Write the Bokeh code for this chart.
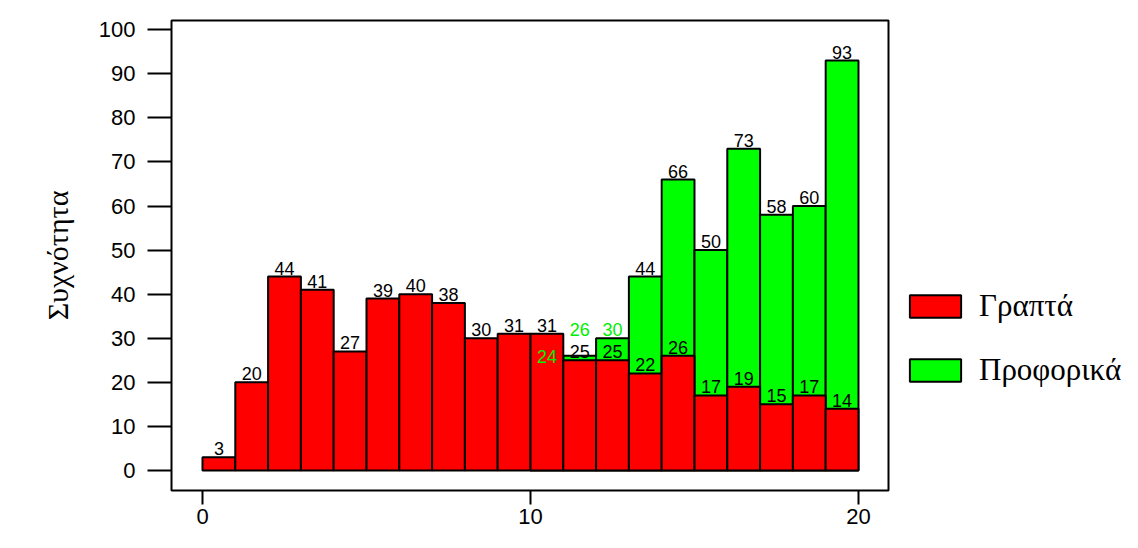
from bokeh.plotting import figure
from bokeh.layouts import row
from bokeh.models import ColumnDataSource, Range1d, Legend, LegendItem, FixedTicker, LabelSet
from bokeh.core.properties import value
from bokeh.embed import file_html
from bokeh.resources import INLINE

# ---- data ----
bin_left = list(range(0, 20))
written = [3, 20, 44, 41, 27, 39, 40, 38, 30, 31, 31, 25, 25, 22, 26, 17, 19, 15, 17, 14]
oral = [0, 0, 0, 0, 0, 0, 0, 0, 0, 0, 24, 26, 30, 44, 66, 50, 73, 58, 60, 93]
x_ticks = [0, 10, 20]
y_ticks = [0, 10, 20, 30, 40, 50, 60, 70, 80, 90, 100]
y_title = "Συχνότητα"
series_names = ["Γραπτά", "Προφορικά"]

RED = "#FF0000"
GREEN = "#00FF00"

w_src = ColumnDataSource(dict(
    left=bin_left, right=[b + 1 for b in bin_left], top=written,
    xc=[b + 0.5 for b in bin_left], lab=[str(v) for v in written]))

o_idx = [i for i, v in enumerate(oral) if v > 0]
o_src = ColumnDataSource(dict(
    left=[bin_left[i] for i in o_idx], right=[bin_left[i] + 1 for i in o_idx],
    top=[oral[i] for i in o_idx], xc=[bin_left[i] + 0.5 for i in o_idx],
    lab=[str(oral[i]) for i in o_idx],
    # label height: keep clear of the written-bar label when the bars are close
    ly=[oral[i] if oral[i] < written[i] else max(oral[i], written[i] + 5) for i in o_idx],
    col=["#00EE00" if oral[i] - written[i] <= 5 else "black" for i in o_idx]))

p = figure(width=898, height=532, output_backend="svg", toolbar_location=None,
           x_range=Range1d(-0.945, 20.915), y_range=Range1d(-4.56, 102.1),
           min_border_left=171, min_border_top=20, min_border_right=10, min_border_bottom=42)

p.background_fill_color = "white"
p.border_fill_color = "white"
p.outline_line_color = "black"
p.outline_line_width = 2
p.xgrid.visible = False
p.ygrid.visible = False

g = p.quad(left="left", right="right", bottom=0, top="top", source=o_src,
           fill_color=GREEN, line_color="black", line_width=2)
r = p.quad(left="left", right="right", bottom=0, top="top", source=w_src,
           fill_color=RED, line_color="black", line_width=2)

p.add_layout(LabelSet(x="xc", y="ly", text="lab", source=o_src, text_align="center",
                      text_baseline="bottom", y_offset=2, text_font=value("Liberation Sans"),
                      text_font_size=value("18px"), text_color="col"))
p.add_layout(LabelSet(x="xc", y="top", text="lab", source=w_src, text_align="center",
                      text_baseline="bottom", y_offset=2, text_font=value("Liberation Sans"),
                      text_font_size=value("18px"), text_color=value("black")))

for ax in (p.xaxis[0], p.yaxis[0]):
    ax.axis_line_color = None
    ax.major_tick_in = 0
    ax.minor_tick_line_color = None
    ax.major_tick_line_color = "black"
    ax.major_tick_line_width = 2
    ax.major_label_text_font = "Liberation Sans"
    ax.major_label_text_font_size = "22px"
    ax.major_label_text_color = "black"

p.xaxis.ticker = FixedTicker(ticks=x_ticks)
p.xaxis.major_tick_out = 14
p.xaxis.major_label_standoff = 4

p.yaxis.ticker = FixedTicker(ticks=y_ticks)
p.yaxis.major_tick_out = 24
p.yaxis.major_label_standoff = 12
p.yaxis.axis_label = y_title
p.yaxis.axis_label_text_font = "Liberation Serif"
p.yaxis.axis_label_text_font_size = "30px"
p.yaxis.axis_label_text_font_style = "normal"
p.yaxis.axis_label_text_color = "black"
p.yaxis.axis_label_standoff = 22

# ---- legend panel (series drawn out of view; only the legend shows) ----
q = figure(width=232, height=532, output_backend="svg", toolbar_location=None,
           x_range=Range1d(-200, -199), y_range=Range1d(0, 1),
           x_axis_type=None, y_axis_type=None,
           min_border_left=0, min_border_right=0, min_border_top=0, min_border_bottom=0)
q.outline_line_color = None
q.background_fill_color = "white"
q.border_fill_color = "white"
q.xgrid.visible = False
q.ygrid.visible = False
lr = q.quad(left="left", right="right", bottom=0, top="top", source=w_src,
            fill_color=RED, line_color="black", line_width=2)
lg = q.quad(left="left", right="right", bottom=0, top="top", source=o_src,
            fill_color=GREEN, line_color="black", line_width=2)

legend = Legend(items=[LegendItem(label=series_names[0], renderers=[lr]),
                       LegendItem(label=series_names[1], renderers=[lg])],
                location=(5, 102), orientation="vertical",
                glyph_width=64, glyph_height=28, spacing=28, padding=0, margin=0,
                label_text_font="Liberation Serif", label_text_font_size="31px",
                label_text_color="black",
                label_standoff=12, border_line_color=None, background_fill_alpha=0)
q.add_layout(legend)

layout = row(p, q, spacing=0)
open("out.html", "w").write(file_html(layout, INLINE))
